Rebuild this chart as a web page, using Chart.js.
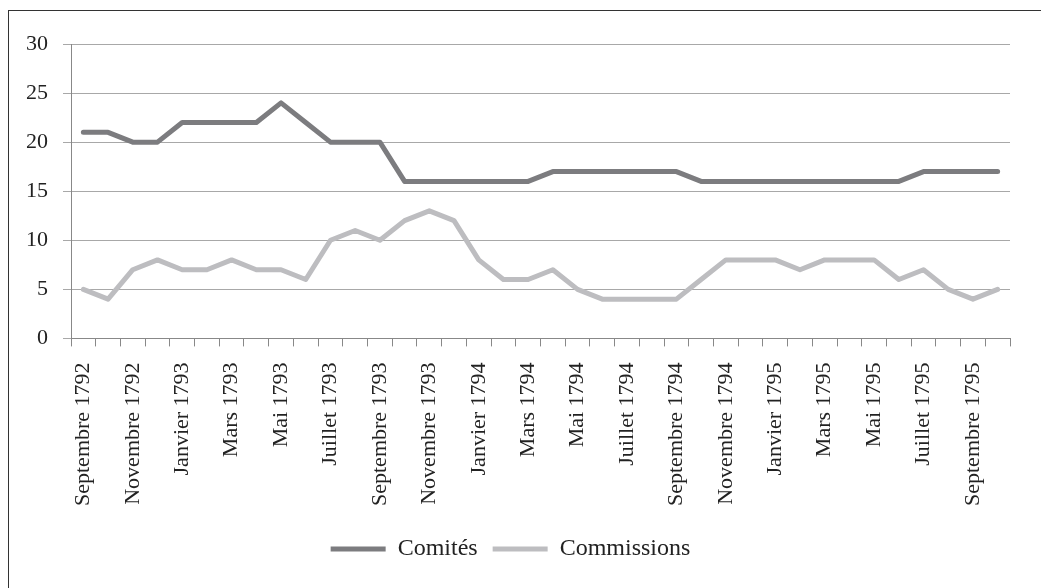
<!DOCTYPE html>
<html>
<head>
<meta charset="utf-8">
<script src="https://cdn.jsdelivr.net/npm/chart.js@4"></script>
<style>
  body { margin: 0; background: #fff; }
  #frame { position: absolute; left: 8px; top: 10px; width: 1040px; height: 590px; border: 1px solid #333; box-sizing: border-box; }
  #wrap { position: absolute; left: 0; top: 0; width: 1041px; height: 588px; }
</style>
</head>
<body>
<div id="frame"></div>
<div id="wrap"><canvas id="myChart"></canvas></div>
<script>
// septembre 1792 -> octobre 1795, one label per month
labels = [
  "Septembre 1792", "Octobre 1792", "Novembre 1792", "Décembre 1792",
  "Janvier 1793", "Février 1793", "Mars 1793", "Avril 1793", "Mai 1793", "Juin 1793",
  "Juillet 1793", "Août 1793", "Septembre 1793", "Octobre 1793", "Novembre 1793", "Décembre 1793",
  "Janvier 1794", "Février 1794", "Mars 1794", "Avril 1794", "Mai 1794", "Juin 1794",
  "Juillet 1794", "Août 1794", "Septembre 1794", "Octobre 1794", "Novembre 1794", "Décembre 1794",
  "Janvier 1795", "Février 1795", "Mars 1795", "Avril 1795", "Mai 1795", "Juin 1795",
  "Juillet 1795", "Août 1795", "Septembre 1795", "Octobre 1795"
]

comites = [21, 21, 20, 20, 22, 22, 22, 22, 24, 22, 20, 20, 20,
           16, 16, 16, 16, 16, 16,
           17, 17, 17, 17, 17, 17,
           16, 16, 16, 16, 16, 16, 16, 16, 16,
           17, 17, 17, 17]

commissions = [5, 4, 7, 8, 7, 7, 8, 7, 7, 6,
               10, 11, 10, 12, 13, 12, 8, 6, 6, 7,
               5, 4, 4, 4, 4, 6, 8, 8, 8, 7,
               8, 8, 8, 6, 7, 5, 4, 5]

yTicks = [0, 5, 10, 15, 20, 25, 30]

document.addEventListener('DOMContentLoaded', function() {
    var font = { family: "'Liberation Serif', 'DejaVu Serif', serif", size: 22 }
    var legendFont = { family: "'Liberation Serif', 'DejaVu Serif', serif", size: 24 }
    var ctx = document.getElementById("myChart").getContext('2d');
    var myChart = new Chart(ctx, {
      type: 'line',
      data: {
        labels: labels,
        datasets: [{
          label: 'Comités',
          data: comites,
          borderColor: '#7c7c7f',
          backgroundColor: '#7c7c7f',
          borderWidth: 5,
          pointRadius: 0,
          tension: 0,
          borderCapStyle: 'round',
          borderJoinStyle: 'round'
        }, {
          label: 'Commissions',
          data: commissions,
          borderColor: '#bdbdc0',
          backgroundColor: '#bdbdc0',
          borderWidth: 5,
          pointRadius: 0,
          tension: 0,
          borderCapStyle: 'round',
          borderJoinStyle: 'round'
        }]
      },
      options: {
        responsive: true,
        maintainAspectRatio: false,
        animation: false,
        layout: { padding: { left: 11, right: 31, top: 44, bottom: 17 } },
        plugins: {
          tooltip: { enabled: false },
          legend: {
            position: 'bottom',
            labels: {
              font: legendFont,
              color: '#222',
              usePointStyle: true,
              pointStyle: 'line',
              pointStyleWidth: 55,
              boxHeight: 5,
              padding: 15
            }
          }
        },
        scales: {
          x: {
            offset: true,
            grid: { offset: true, drawOnChartArea: false, drawTicks: true, tickLength: 8, color: '#888' },
            border: { color: '#888', width: 1 },
            ticks: {
              autoSkip: false,
              minRotation: 90,
              maxRotation: 90,
              padding: 16,
              font: font,
              color: '#222',
              callback: function(v, i) { return i % 2 === 0 ? labels[i] : ''; }
            }
          },
          y: {
            min: 0,
            max: 30,
            afterBuildTicks: function(axis) { axis.ticks = yTicks.map(function(v) { return { value: v }; }); },
            grid: { color: '#a8a8a8', lineWidth: 1, tickLength: 8 },
            border: { color: '#888', width: 1 },
            ticks: { font: font, color: '#222', padding: 15 }
          }
        }
      }
    });
})
</script>
</body>
</html>
